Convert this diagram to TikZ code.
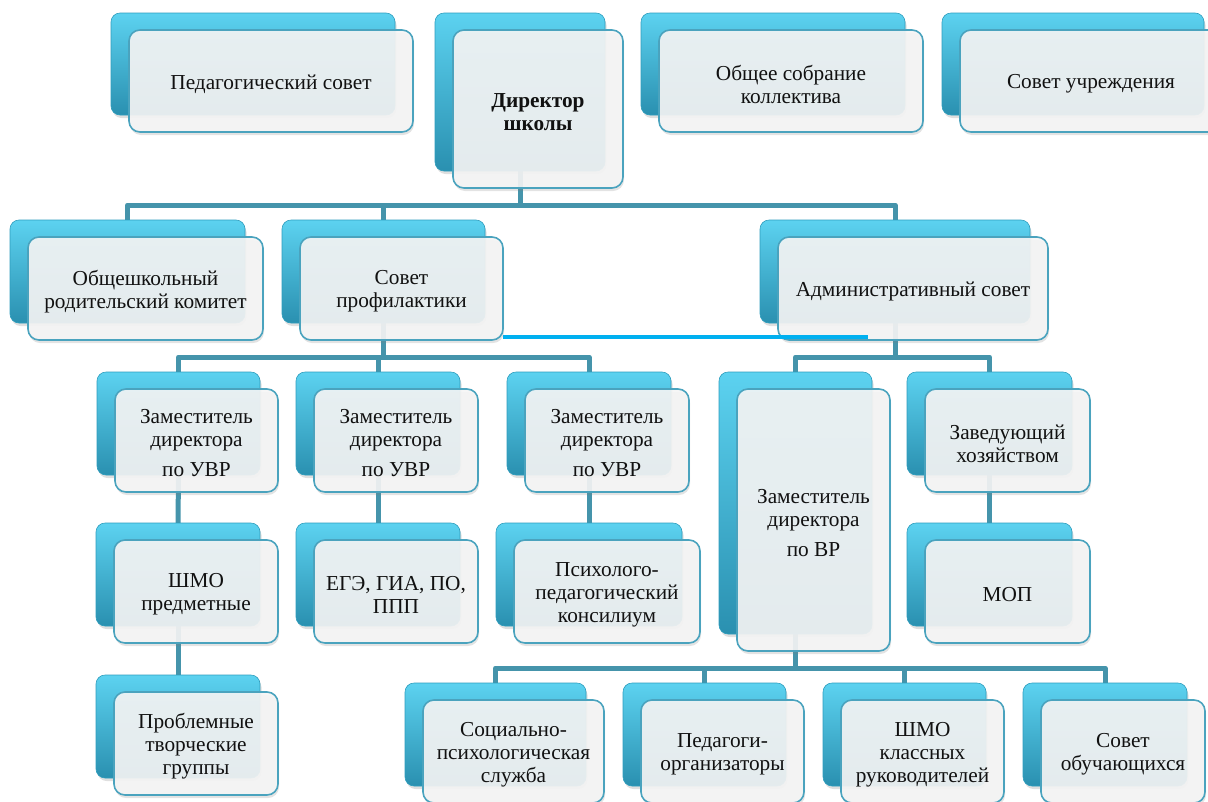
\documentclass[tikz,border=0pt]{standalone}
\usepackage{fontspec}
\setmainfont{Liberation Serif}
\usetikzlibrary{shadows,calc}
\pgfdeclarelayer{bg}
\pgfsetlayers{bg,main}
\definecolor{bkTop}{HTML}{5CD2F0}
\definecolor{bkMid}{HTML}{3AB4D6}
\definecolor{bkBot}{HTML}{2A90B0}
\definecolor{bkEdge}{HTML}{2E9DBD}
\definecolor{frFill}{HTML}{F5F5F5}
\definecolor{frEdge}{HTML}{4AA3BE}
\definecolor{connC}{HTML}{4594AB}
\definecolor{brightC}{HTML}{00B0F0}
\definecolor{txtC}{HTML}{111111}
\tikzset{
  backbox/.style={rectangle, rounded corners=9pt, inner sep=0pt, outer sep=0pt,
    top color=bkTop, middle color=bkMid, bottom color=bkBot, draw=bkEdge, line width=0.6pt,
    drop shadow={shadow xshift=1.5pt, shadow yshift=-3pt, opacity=0.25}},
  frontbox/.style={rectangle, rounded corners=11pt, inner sep=0pt, outer sep=0pt,
    fill=frFill, fill opacity=0.91, draw=frEdge, draw opacity=1, line width=1.6pt,
    drop shadow={shadow xshift=1pt, shadow yshift=-3pt, opacity=0.22}},
  boxtext/.style={inner sep=0pt, align=center, text=txtC, font=\fontsize{21.3}{23}\selectfont},
  conn/.style={draw=connC, line width=5pt, line join=round},
  brightline/.style={draw=brightC, line width=3.5pt}
}
\newcommand\elem[6]{%
  \pgfmathsetmacro\ew{#4-#2}\pgfmathsetmacro\eh{#5-#3}%
  \pgfmathsetmacro\ecx{(#2+#4)/2}\pgfmathsetmacro\ecy{(#3+#5)/2}%
  \node[backbox, minimum width=\ew pt, minimum height=\eh pt] (#1B) at (\ecx,\ecy) {};
  \node[frontbox, minimum width=\ew pt, minimum height=\eh pt] (#1) at (\ecx+18,\ecy+17) {};
  \node[boxtext] (#1T) at ([yshift=-3pt]#1.center) {#6};
}
\begin{document}
\begin{tikzpicture}[x=1pt,y=-1pt]
\useasboundingbox (0,0) rectangle (1208,801);
\clip (0,0) rectangle (1208,801);
% row 1
\elem{ped}{111}{13}{395}{115}{Педагогический совет}
\elem{dir}{435}{13}{605}{171}{\textbf{Директор}\\\textbf{школы}}
\elem{obs}{641}{13}{905}{115}{Общее собрание\\коллектива}
\elem{sou}{942}{13}{1204}{115}{Совет учреждения}
% row 2
\elem{rod}{10}{220}{245}{323}{Общешкольный\\родительский комитет}
\elem{prof}{282}{220}{485}{323}{Совет\\профилактики}
\elem{adm}{760}{220}{1030}{323}{Административный совет}
% row 3
\elem{zA}{97}{372}{260}{475}{Заместитель\\директора\\[7pt]по УВР}
\elem{zB}{296}{372}{460}{475}{Заместитель\\директора\\[7pt]по УВР}
\elem{zC}{507}{372}{671}{475}{Заместитель\\директора\\[7pt]по УВР}
\elem{zvr}{719}{372}{872}{634}{Заместитель\\директора\\[7pt]по ВР}
\elem{zh}{907}{372}{1072}{475}{Заведующий\\хозяйством}
% row 4
\elem{shmo}{96}{523}{260}{626}{ШМО\\предметные}
\elem{ege}{296}{523}{460}{626}{ЕГЭ, ГИА, ПО,\\ППП}
\elem{psy}{496}{523}{682}{626}{Психолого-\\педагогический\\консилиум}
\elem{mop}{907}{523}{1072}{626}{МОП}
% row 5
\elem{probl}{96}{675}{260}{778}{Проблемные\\творческие\\группы}
\elem{soc}{405}{683}{586}{786}{Социально-\\психологическая\\служба}
\elem{porg}{623}{683}{786}{786}{Педагоги-\\организаторы}
\elem{shkl}{823}{683}{986}{786}{ШМО\\классных\\руководителей}
\elem{sob}{1023}{683}{1187}{786}{Совет\\обучающихся}
% connectors
\coordinate (busA) at (0,205);
\coordinate (busB) at (0,357);
\coordinate (busC) at (0,668);
\begin{pgfonlayer}{bg}
\draw[conn] (dirB.south) -- (dirB.south |- busA) -| (rodB.north);
\draw[conn] (dirB.south) -- (dirB.south |- busA) -| (profB.north);
\draw[conn] (dirB.south) -- (dirB.south |- busA) -| (admB.north);
\draw[conn] (profB.south) -- (profB.south |- busB) -| (zAB.north);
\draw[conn] (profB.south) -- (profB.south |- busB) -| (zBB.north);
\draw[conn] (profB.south) -- (profB.south |- busB) -| (zCB.north);
\draw[conn] (admB.south) -- (admB.south |- busB) -| (zvrB.north);
\draw[conn] (admB.south) -- (admB.south |- busB) -| (zhB.north);
\draw[conn] (zAB.south) -- (shmoB.north);
\draw[conn] (shmoB.south) -- (problB.north);
\draw[conn] (zBB.south) -- (egeB.north);
\draw[conn] (zCB.south) -- (psyB.north);
\draw[conn] (zhB.south) -- (mopB.north);
\draw[conn] (zvrB.south) -- (zvrB.south |- busC) -| (socB.north);
\draw[conn] (zvrB.south) -- (zvrB.south |- busC) -| (porgB.north);
\draw[conn] (zvrB.south) -- (zvrB.south |- busC) -| (shklB.north);
\draw[conn] (zvrB.south) -- (zvrB.south |- busC) -| (sobB.north);
\end{pgfonlayer}
\coordinate (blA) at (503,337);
\coordinate (blB) at (868,337);
\draw[brightline] (blA) -- (blB);
\end{tikzpicture}
\end{document}
